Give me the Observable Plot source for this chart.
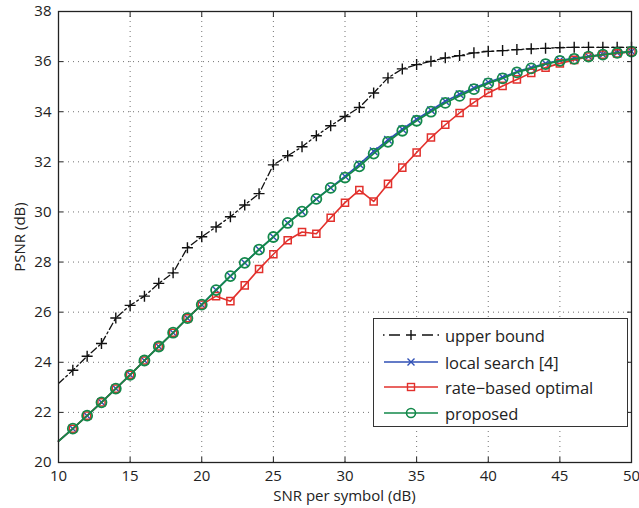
<!DOCTYPE html>
<html>
<head>
<meta charset="utf-8">
<script src="https://cdn.jsdelivr.net/npm/d3@7"></script>
<script src="https://cdn.jsdelivr.net/npm/@observablehq/plot@0.6"></script>
<style>
  html, body { margin: 0; padding: 0; background: #fff; }
  #wrap { position: relative; width: 639px; height: 508px; font-family: "Open Sans", sans-serif; }
  #legend { position: absolute; left: 373px; top: 318px; width: 255px; height: 109px;
    border: 1.3px solid #333; background: #fff; box-sizing: border-box; }
  .row { position: absolute; left: 0; height: 24px; display: flex; align-items: center; }
  .row span { font-size: 16.5px; color: #222; margin-left: 6px; letter-spacing: -0.1px; }
</style>
</head>
<body>
<div id="wrap"></div>
<script>
const snr = [10,11,12,13,14,15,16,17,18,19,20,21,22,23,24,25,26,27,28,29,30,31,32,33,34,35,36,37,38,39,40,41,42,43,44,45,46,47,48,49,50];
const upperBound = [23.15,23.68,24.24,24.75,25.77,26.27,26.64,27.15,27.57,28.57,29.01,29.4,29.81,30.28,30.73,31.88,32.24,32.6,33.04,33.44,33.81,34.17,34.75,35.35,35.71,35.88,36.01,36.15,36.24,36.35,36.41,36.44,36.48,36.51,36.53,36.56,36.57,36.57,36.57,36.57,36.57];
const localSearch = [20.85,21.35,21.87,22.4,22.95,23.5,24.07,24.63,25.18,25.76,26.3,26.88,27.44,27.97,28.5,29.0,29.56,30.01,30.52,30.97,31.42,31.9,32.42,32.88,33.3,33.7,34.06,34.42,34.7,34.95,35.18,35.38,35.6,35.76,35.92,36.05,36.13,36.2,36.28,36.35,36.4];
const rateBased = [20.85,21.35,21.87,22.4,22.95,23.5,24.07,24.63,25.18,25.76,26.3,26.64,26.44,27.07,27.72,28.31,28.87,29.2,29.13,29.77,30.37,30.87,30.42,31.12,31.77,32.37,32.97,33.48,33.95,34.37,34.75,35.03,35.29,35.55,35.76,35.93,36.07,36.2,36.28,36.33,36.4];
const proposed = [20.85,21.35,21.87,22.4,22.95,23.5,24.07,24.63,25.18,25.76,26.3,26.88,27.44,27.97,28.5,29.0,29.56,30.01,30.52,30.96,31.37,31.82,32.33,32.8,33.24,33.64,34.0,34.35,34.63,34.9,35.13,35.33,35.57,35.73,35.9,36.03,36.11,36.2,36.28,36.35,36.4];
const seriesNames = ["upper bound", "local search [4]", "rate\u2212based optimal", "proposed"];
const xTicks = [10,15,20,25,30,35,40,45,50];
const yTicks = [20,22,24,26,28,30,32,34,36,38];

const colors = {ub: "#111111", ls: "#2f4fb5", rb: "#e2302c", pr: "#13894a"};

const plusSym = {draw(ctx, size) { const r = Math.sqrt(size / Math.PI); ctx.moveTo(-r, 0); ctx.lineTo(r, 0); ctx.moveTo(0, -r); ctx.lineTo(0, r); }};
const timesSym = {draw(ctx, size) { const r = Math.sqrt(size / Math.PI) * 0.75; ctx.moveTo(-r, -r); ctx.lineTo(r, r); ctx.moveTo(r, -r); ctx.lineTo(-r, r); }};

const mk = (arr) => snr.map((x, i) => ({x, y: arr[i]}));
const ub = mk(upperBound), ls = mk(localSearch), rb = mk(rateBased), pr = mk(proposed);
const mkr = (d) => d.filter(p => p.x > 10);

const chart = Plot.plot({
  width: 639, height: 508,
  marginLeft: 58, marginRight: 8, marginTop: 11, marginBottom: 46,
  style: {fontFamily: "Open Sans, sans-serif", fontSize: "15px", color: "#222", background: "#fff"},
  x: {domain: [10, 50]},
  y: {domain: [20, 38]},
  marks: [
    Plot.gridX(xTicks, {stroke: "#000", strokeOpacity: 0.55, strokeDasharray: "1,4"}),
    Plot.gridY(yTicks, {stroke: "#000", strokeOpacity: 0.55, strokeDasharray: "1,4"}),
    Plot.line(ub, {x: "x", y: "y", stroke: colors.ub, strokeWidth: 1.3, strokeDasharray: "7,3,2,3", clip: true}),
    Plot.dot(mkr(ub), {x: "x", y: "y", symbol: plusSym, r: 5.5, stroke: colors.ub, strokeWidth: 1.4, fill: "none"}),
    Plot.line(ls, {x: "x", y: "y", stroke: colors.ls, strokeWidth: 1.6}),
    Plot.dot(mkr(ls), {x: "x", y: "y", symbol: timesSym, r: 5, stroke: colors.ls, strokeWidth: 1.4, fill: "none"}),
    Plot.line(rb, {x: "x", y: "y", stroke: colors.rb, strokeWidth: 1.6}),
    Plot.dot(mkr(rb), {x: "x", y: "y", symbol: "square", r: 4, stroke: colors.rb, strokeWidth: 1.5, fill: "none"}),
    Plot.line(pr, {x: "x", y: "y", stroke: colors.pr, strokeWidth: 1.8}),
    Plot.dot(mkr(pr), {x: "x", y: "y", symbol: "circle", r: 5, stroke: colors.pr, strokeWidth: 1.8, fill: "none"}),
    Plot.frame({stroke: "#222", strokeWidth: 1.3}),
    Plot.axisX(xTicks, {anchor: "bottom", tickSize: -5, tickPadding: 13, stroke: "#222", label: null, tickFormat: d => d}),
    Plot.axisX(xTicks, {anchor: "top", tickSize: -5, text: null, label: null, stroke: "#222"}),
    Plot.axisY(yTicks, {anchor: "left", tickSize: -5, tickPadding: 12, stroke: "#222", label: "PSNR (dB)", labelAnchor: "center", labelArrow: "none", labelOffset: 44, tickFormat: d => d}),
    Plot.axisY(yTicks, {anchor: "right", tickSize: -5, text: null, label: null, stroke: "#222"})
  ]
});

const wrap = document.getElementById("wrap");
wrap.appendChild(chart);

// x-axis title below the svg's tick labels
const xt = document.createElement("div");
xt.textContent = "SNR per symbol (dB)";
xt.style.cssText = "position:absolute;left:58px;width:573px;top:488px;text-align:center;font-size:15px;color:#222;line-height:15px;";
wrap.appendChild(xt);

// legend
const leg = document.createElement("div");
leg.id = "legend";
const rows = [
  {name: seriesNames[0], c: colors.ub, dash: true, sym: "plus"},
  {name: seriesNames[1], c: colors.ls, dash: false, sym: "times"},
  {name: seriesNames[2], c: colors.rb, dash: false, sym: "square"},
  {name: seriesNames[3], c: colors.pr, dash: false, sym: "circle"}
];
const rowTops = [4, 31, 56, 82];
rows.forEach((r, i) => {
  const row = document.createElement("div");
  row.className = "row";
  row.style.top = rowTops[i] + "px";
  row.style.left = "9px";
  let sym = "";
  if (r.sym === "plus") sym = `<path d="M28,7 V17 M23,12 H33" stroke="${r.c}" stroke-width="1.4"/>`;
  if (r.sym === "times") sym = `<path d="M24.5,8.5 L31.5,15.5 M31.5,8.5 L24.5,15.5" stroke="${r.c}" stroke-width="1.4"/>`;
  if (r.sym === "square") sym = `<rect x="24.5" y="8.5" width="7" height="7" fill="none" stroke="${r.c}" stroke-width="1.4"/>`;
  if (r.sym === "circle") sym = `<circle cx="28" cy="12" r="4.5" fill="none" stroke="${r.c}" stroke-width="1.6"/>`;
  const lineEl = r.dash
    ? `<path d="M0,12 H1.5 M6,12 H17 M39,12 H50 M54.5,12 H56" stroke="${r.c}" stroke-width="1.3"/>`
    : `<line x1="1" y1="12" x2="55" y2="12" stroke="${r.c}" stroke-width="1.6"/>`;
  row.innerHTML = `<svg width="56" height="24">${lineEl}${sym}</svg><span>${r.name}</span>`;
  leg.appendChild(row);
});
wrap.appendChild(leg);
</script>
</body>
</html>
